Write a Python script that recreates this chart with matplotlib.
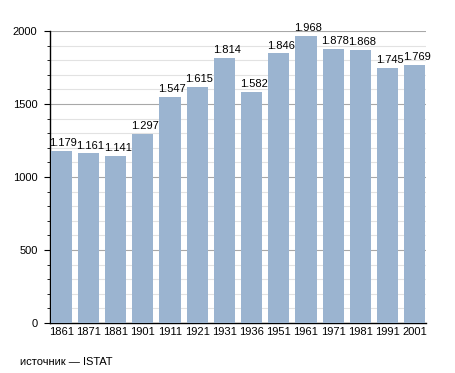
import numpy as np
import matplotlib.pyplot as plt
from matplotlib.ticker import MultipleLocator

plt.rcParams['font.family'] = ['Liberation Sans', 'DejaVu Sans']
plt.rcParams['font.size'] = 8

years = ['1861', '1871', '1881', '1901', '1911', '1921', '1931',
         '1936', '1951', '1961', '1971', '1981', '1991', '2001']
population = [1179, 1161, 1141, 1297, 1547, 1615, 1814,
              1582, 1846, 1968, 1878, 1868, 1745, 1769]
value_labels = ['1.179', '1.161', '1.141', '1.297', '1.547', '1.615', '1.814',
                '1.582', '1.846', '1.968', '1.878', '1.868', '1.745', '1.769']

fig = plt.figure(figsize=(4.55, 3.73), dpi=100)
ax = fig.add_axes([0.110, 0.134, 0.826, 0.783])

x = np.arange(len(years))
bars = ax.bar(x, population, width=0.78, color='#9bb4d0', zorder=3)

for xi, v, lab in zip(x, population, value_labels):
    ax.text(xi + 0.08, v + 20, lab, ha='center', va='bottom', fontsize=8,
            zorder=4)

ax.set_xlim(-0.41, len(years) - 0.59)
ax.set_ylim(0, 2000)
ax.set_xticks(x)
ax.set_xticklabels(years, fontsize=8)
ax.yaxis.set_major_locator(MultipleLocator(500))
ax.yaxis.set_minor_locator(MultipleLocator(100))
ax.grid(axis='y', which='major', color='#a8a8a8', lw=0.8, zorder=0)
ax.grid(axis='y', which='minor', color='#e2e2e2', lw=0.8, zorder=0)

for s in ['top', 'right']:
    ax.spines[s].set_visible(False)
ax.tick_params(axis='x', length=0, pad=3)
ax.tick_params(axis='y', which='major', length=4, direction='out', pad=5,
               labelsize=8)
ax.tick_params(axis='y', which='minor', length=2.5, direction='out')
ax.spines['left'].set_linewidth(1)
ax.spines['bottom'].set_linewidth(1)

fig.text(0.044, 0.03, 'источник — ISTAT', fontsize=8, va='center')

fig.savefig('out.png', dpi=100)
